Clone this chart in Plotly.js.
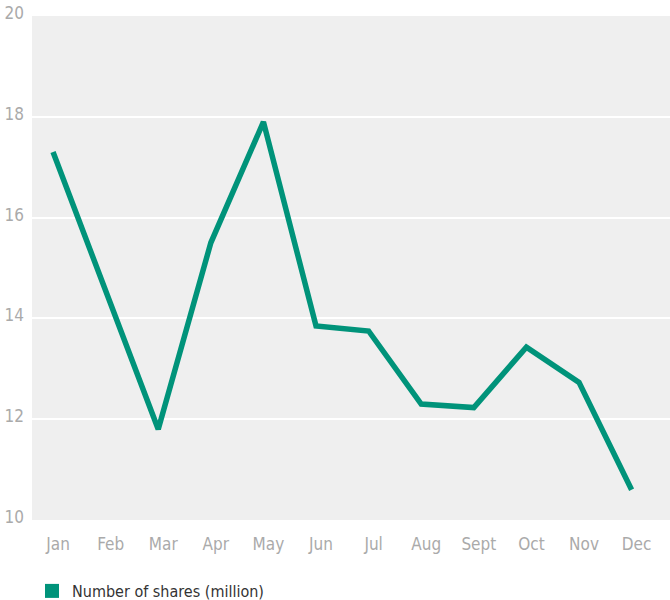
<!DOCTYPE html>
<html>
<head>
<meta charset="utf-8">
<script src="https://cdn.plot.ly/plotly-3.0.1.min.js"></script>
<style>html,body{margin:0;padding:0;background:#fff;}#chart{width:670px;height:600px;}</style>
</head>
<body>
<div id="chart"></div>
<script>
const months = ["Jan","Feb","Mar","Apr","May","Jun","Jul","Aug","Sept","Oct","Nov","Dec"];
const shares = [17.3, 14.55, 11.8, 15.5, 17.9, 13.85, 13.75, 12.3, 12.23, 13.43, 12.73, 10.6];
const seriesName = "Number of shares (million)";
const yTicks = [10, 12, 14, 16, 18, 20];

const FONT = "'Liberation Sans Narrow', 'DejaVu Sans Condensed', 'Roboto', sans-serif";
const TEAL = "#00937a";

const traces = [
  {
    x: months, y: shares, type: "scatter", mode: "lines",
    line: {color: TEAL, width: 5.5, shape: "linear"},
    showlegend: false, hoverinfo: "skip"
  },
  {
    x: [null], y: [null], type: "scatter", mode: "markers",
    name: seriesName,
    marker: {symbol: "square", size: 14, color: TEAL},
    showlegend: true
  }
];

const layout = {
  width: 670, height: 600,
  margin: {l: 32, r: 0, t: 16, b: 80, autoexpand: false},
  paper_bgcolor: "#ffffff",
  plot_bgcolor: "#efefef",
  font: {family: FONT, size: 17, color: "#aaaaaa"},
  xaxis: {
    type: "category",
    categoryorder: "array", categoryarray: months,
    range: [-0.4, 11.73],
    showgrid: false, zeroline: false, showline: false,
    ticks: "", ticklabelshift: 5, ticklabelstandoff: 12,
    tickfont: {family: FONT, size: 17, color: "#aaaaaa"},
    automargin: false,
    fixedrange: true
  },
  yaxis: {
    range: [10, 20],
    tickvals: yTicks, ticktext: yTicks.map(String),
    showgrid: true, gridcolor: "#ffffff", gridwidth: 2,
    zeroline: false, showline: false, ticks: "",
    ticklabelstandoff: 7, ticklabelshift: -3,
    tickfont: {family: FONT, size: 17, color: "#aaaaaa"},
    automargin: false,
    fixedrange: true
  },
  showlegend: true,
  legend: {
    orientation: "h",
    x: 0, xanchor: "left", xref: "paper",
    y: 0.015, yanchor: "middle", yref: "container",
    font: {family: FONT, size: 16, color: "#333333"},
    itemwidth: 30,
    bgcolor: "rgba(0,0,0,0)"
  }
};

Plotly.newPlot("chart", traces, layout, {displayModeBar: false, staticPlot: true});
</script>
</body>
</html>
